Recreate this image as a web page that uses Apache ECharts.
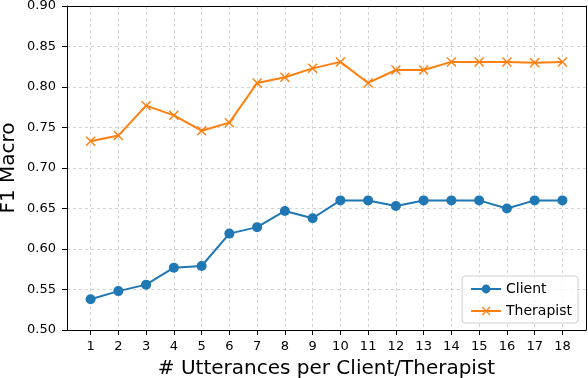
<!DOCTYPE html>
<html>
<head>
<meta charset="utf-8">
<script src="https://cdn.jsdelivr.net/npm/echarts@6/dist/echarts.min.js"></script>
<style>
  html, body { margin: 0; padding: 0; background: #fff; }
  #chart { width: 588px; height: 378px; }
</style>
</head>
<body>
<div id="chart"></div>
<script>
var utterances = [1, 2, 3, 4, 5, 6, 7, 8, 9, 10, 11, 12, 13, 14, 15, 16, 17, 18];
var clientF1 = [0.538, 0.548, 0.556, 0.577, 0.579, 0.619, 0.627, 0.647, 0.638, 0.660, 0.660, 0.653, 0.660, 0.660, 0.660, 0.650, 0.660, 0.660];
var therapistF1 = [0.733, 0.740, 0.777, 0.765, 0.746, 0.756, 0.805, 0.812, 0.823, 0.831, 0.805, 0.821, 0.821, 0.831, 0.831, 0.831, 0.830, 0.831];

function pairs(xs, ys) {
  return xs.map(function (x, i) { return [x, ys[i]]; });
}

var font = 'DejaVu Sans';
var xMark = 'path://M0,1L1,0L5,4L9,0L10,1L6,5L10,9L9,10L5,6L1,10L0,9L4,5Z';
var gridLine = { show: true, lineStyle: { color: '#c8c8c8', type: [3, 3], width: 0.8 } };
// plain black frame lines for the top and right edges
var frame = {
  axisLine: { show: true, lineStyle: { color: '#000', width: 1 } },
  axisTick: { show: false }, axisLabel: { show: false }, splitLine: { show: false }
};

var chart = echarts.init(document.getElementById('chart'));
chart.setOption({
  animation: false,
  textStyle: { fontFamily: font },
  grid: {
    left: 67, right: 2, top: 6, bottom: 48,
    outerBoundsMode: 'none', containLabel: false
  },
  legend: {
    orient: 'vertical',
    right: 10, bottom: 55,
    itemWidth: 30, itemHeight: 11, itemGap: 8,
    padding: [6, 6, 5, 8],
    borderColor: '#d0d0d0', borderWidth: 1, borderRadius: 3,
    backgroundColor: 'rgba(255,255,255,0.8)',
    textStyle: { fontFamily: font, fontSize: 14, color: '#000' },
    data: ['Client', 'Therapist']
  },
  xAxis: [{
    type: 'value',
    min: 0.15, max: 18.85,
    name: '# Utterances per Client/Therapist',
    nameLocation: 'middle', nameGap: 29, nameMoveOverlap: false,
    nameTextStyle: { fontFamily: font, fontSize: 20, color: '#000' },
    axisLine: { lineStyle: { color: '#000', width: 1 } },
    axisTick: { show: true, length: 5, customValues: utterances, lineStyle: { color: '#000' } },
    axisLabel: { customValues: utterances, color: '#000', fontSize: 13, margin: 10 },
    splitLine: gridLine
  }, Object.assign({ type: 'value', min: 0.15, max: 18.85, position: 'top' }, frame)],
  yAxis: [{
    type: 'value',
    min: 0.5, max: 0.9, interval: 0.05,
    name: 'F1 Macro',
    nameLocation: 'middle', nameGap: 48, nameMoveOverlap: false,
    nameTextStyle: { fontFamily: font, fontSize: 20, color: '#000' },
    axisLine: { show: true, lineStyle: { color: '#000', width: 1 } },
    axisTick: { show: true, length: 5, lineStyle: { color: '#000' } },
    axisLabel: {
      color: '#000', fontSize: 13, margin: 11,
      formatter: function (v) { return v.toFixed(2); }
    },
    splitLine: gridLine
  }, Object.assign({ type: 'value', min: 0.5, max: 0.9, position: 'right' }, frame)],
  series: [
    {
      name: 'Client',
      type: 'line',
      data: pairs(utterances, clientF1),
      symbol: 'circle',
      symbolSize: 10,
      color: '#1f77b4',
      lineStyle: { width: 2 },
      itemStyle: { color: '#1f77b4' }
    },
    {
      name: 'Therapist',
      type: 'line',
      data: pairs(utterances, therapistF1),
      symbol: xMark,
      symbolSize: 10,
      color: '#ff7f0e',
      lineStyle: { width: 2 },
      itemStyle: { color: '#ff7f0e' }
    }
  ]
});
</script>
</body>
</html>
